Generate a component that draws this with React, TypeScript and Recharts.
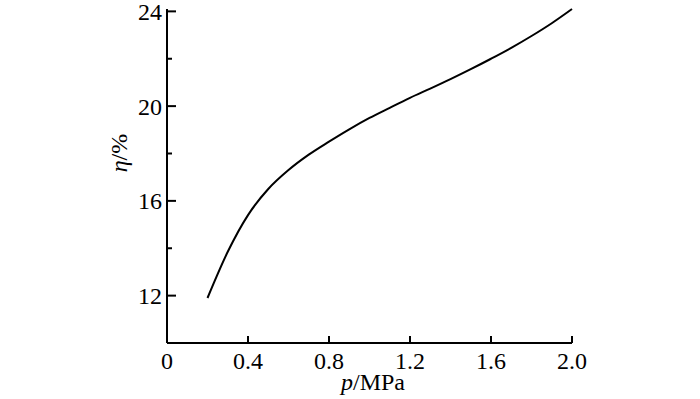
import { Line, LineChart, XAxis, YAxis } from "recharts";

const pressure = [0.2, 0.3, 0.4, 0.5, 0.6, 0.7, 0.8, 0.9, 1.0, 1.1, 1.2, 1.3, 1.4, 1.5, 1.6, 1.7, 1.8, 1.9, 2.0];
const efficiency = [11.9, 13.85, 15.4, 16.5, 17.3, 17.95, 18.5, 19.02, 19.5, 19.93, 20.35, 20.74, 21.14, 21.56, 22.0, 22.46, 22.96, 23.5, 24.1];
const xTicks = [0, 0.4, 0.8, 1.2, 1.6, 2.0];
const yTicks = [12, 14, 16, 18, 20, 22, 24];

const data = pressure.map((p, i) => ({ p, eta: efficiency[i] }));

const FONT = "'Liberation Serif', 'Times New Roman', serif";

function YTick(props: any) {
  const { x, y, payload } = props;
  const major = payload.value % 4 === 0;
  return (
    <g>
      <line x1={x} x2={x + (major ? 9 : 5)} y1={y} y2={y} stroke="#000" strokeWidth={2} />
      {major && (
        <text x={x - 5} y={y} dy="0.35em" textAnchor="end" fontFamily={FONT} fontSize={24} fill="#000">
          {payload.value}
        </text>
      )}
    </g>
  );
}

function XTick(props: any) {
  const { x, y, payload } = props;
  const v = payload.value;
  return (
    <g>
      {v > 0 && <line x1={x} x2={x} y1={y} y2={y - 7} stroke="#000" strokeWidth={2} />}
      <text x={x} y={y + 26} textAnchor="middle" fontFamily={FONT} fontSize={24} fill="#000">
        {v === 0 ? "0" : v.toFixed(1)}
      </text>
    </g>
  );
}

export default function App() {
  return (
    <div style={{ position: "absolute", left: 0, top: 0, background: "#fff" }}>
      <LineChart width={700} height={399} data={data} margin={{ top: 9, right: 128, left: 0, bottom: 0 }}>
        <XAxis
          dataKey="p"
          type="number"
          domain={[0, 2]}
          ticks={xTicks}
          height={56}
          tickSize={0}
          tickMargin={0}
          tickLine={false}
          axisLine={{ stroke: "#000", strokeWidth: 2 }}
          tick={<XTick />}
          interval={0}
          label={{
            content: () => (
              <text x={373} y={390} textAnchor="middle" fontFamily={FONT} fontSize={24} fill="#000">
                <tspan fontStyle="italic">p</tspan>
                <tspan>/MPa</tspan>
              </text>
            ),
          }}
        />
        <YAxis
          type="number"
          domain={[10, 24]}
          ticks={yTicks}
          width={167}
          tickSize={0}
          tickMargin={0}
          tickLine={false}
          axisLine={{ stroke: "#000", strokeWidth: 2 }}
          tick={<YTick />}
          interval={0}
          label={{
            content: () => (
              <text
                x={127}
                y={153}
                transform="rotate(-90 127 153)"
                textAnchor="middle"
                fontFamily={FONT}
                fontSize={24}
                fill="#000"
              >
                <tspan fontStyle="italic">η</tspan>
                <tspan>/%</tspan>
              </text>
            ),
          }}
        />
        <Line
          dataKey="eta"
          type="monotone"
          stroke="#000"
          strokeWidth={2}
          dot={false}
          isAnimationActive={false}
        />
      </LineChart>
    </div>
  );
}
